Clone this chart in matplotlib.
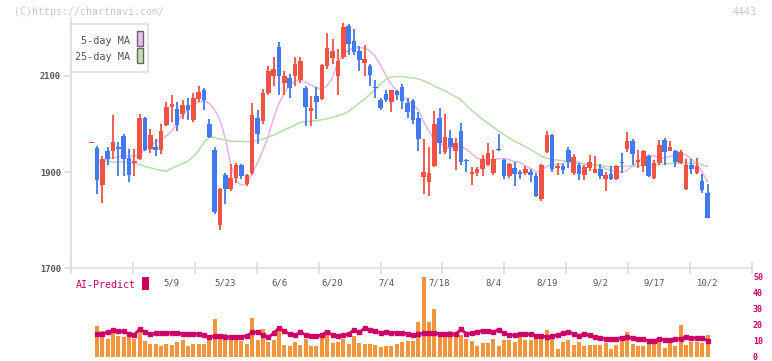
import numpy as np
import matplotlib
matplotlib.use('Agg')
import matplotlib.pyplot as plt
from matplotlib.patches import Rectangle

plt.rcParams['font.family'] = ['DejaVu Sans Mono']

date_labels = ['5/9', '5/23', '6/6', '6/20', '7/4', '7/18', '8/4', '8/19', '9/2', '9/17', '10/2']
price_ticks = [1700, 1900, 2100]

opens = [1960, 1950, 1874, 1943, 1943, 1951, 1975, 1930, 1920, 1928, 2013, 1948, 1953, 1946, 1999,
         2036, 2031, 2021, 2040, 2009, 2052, 2070, 2000, 1947, 1790, 1894, 1865, 1888, 1915, 1876,
         1898, 2013, 2007, 2065, 2100, 2160, 2085, 2095, 2100, 2091, 2075, 2028, 2059, 2052, 2120,
         2138, 2099, 2139, 2205, 2173, 2151, 2128, 2121, 2076, 2050, 2063, 2046, 2069, 2078, 2044,
         2049, 2012, 1889, 1880, 1912, 2013, 1942, 1971, 1943, 1985, 1925, 1897, 1898, 1906, 1915,
         1898, 1948, 1926, 1893, 1908, 1900, 1898, 1900, 1893, 1845, 1942, 1978, 1909, 1912, 1946,
         1898, 1915, 1894, 1909, 1898, 1907, 1885, 1896, 1885, 1920, 1948, 1964, 1922, 1912, 1933,
         1888, 1919, 1967, 1945, 1943, 1919, 1865, 1915, 1898, 1882, 1857]
highs = [1962, 1955, 1933, 1953, 2018, 1963, 1980, 1948, 1948, 2021, 2015, 1990, 1969, 2000, 2045,
         2060, 2045, 2050, 2055, 2065, 2080, 2075, 2011, 1952, 1868, 1898, 1916, 1919, 1917, 1896,
         2044, 2030, 2072, 2120, 2140, 2170, 2110, 2105, 2140, 2140, 2080, 2059, 2077, 2125, 2190,
         2177, 2156, 2210, 2208, 2198, 2163, 2165, 2125, 2092, 2055, 2071, 2071, 2071, 2084, 2055,
         2052, 2025, 1969, 1952, 2027, 2034, 2020, 1988, 1971, 2002, 1928, 1910, 1910, 1935, 1960,
         1946, 1980, 1928, 1920, 1921, 1905, 1912, 1907, 1898, 1916, 1986, 1980, 1918, 1917, 1952,
         1938, 1918, 1914, 1936, 1933, 1917, 1901, 1912, 1914, 1940, 1983, 1969, 1946, 1946, 1936,
         1926, 1967, 1971, 1964, 1946, 1946, 1928, 1928, 1930, 1896, 1876]
lows = [1960, 1855, 1836, 1914, 1928, 1891, 1891, 1880, 1891, 1925, 1944, 1940, 1933, 1938, 1996,
        2005, 1986, 2010, 2009, 2005, 2045, 2030, 1970, 1812, 1779, 1834, 1860, 1878, 1885, 1872,
        1895, 1959, 2000, 2060, 2080, 2060, 2060, 2055, 2080, 2085, 1997, 1997, 2011, 2050, 2115,
        2125, 2061, 2135, 2143, 2143, 2111, 2101, 2080, 2055, 2030, 2045, 2025, 2050, 2032, 2012,
        2000, 1945, 1855, 1851, 1910, 1938, 1938, 1928, 1905, 1915, 1900, 1873, 1893, 1893, 1912,
        1895, 1945, 1885, 1888, 1872, 1885, 1895, 1880, 1849, 1840, 1940, 1900, 1895, 1897, 1909,
        1895, 1884, 1884, 1902, 1898, 1886, 1860, 1884, 1883, 1898, 1942, 1914, 1908, 1901, 1889,
        1885, 1914, 1915, 1943, 1910, 1917, 1862, 1897, 1897, 1856, 1805]
closes = [1961, 1883, 1928, 1928, 1962, 1949, 1928, 1895, 1922, 2013, 1946, 1977, 1946, 1986, 2036,
          2042, 1998, 2040, 2030, 2055, 2067, 2050, 1974, 1818, 1865, 1865, 1888, 1915, 1893, 1894,
          2018, 1980, 2065, 2110, 2115, 2100, 2100, 2075, 2125, 2132, 2036, 2034, 2046, 2122, 2158,
          2152, 2132, 2201, 2166, 2150, 2134, 2136, 2103, 2074, 2034, 2050, 2070, 2061, 2049, 2025,
          2009, 1969, 1900, 1898, 2000, 1960, 1973, 1952, 1961, 1922, 1923, 1901, 1907, 1928, 1940,
          1928, 1946, 1893, 1917, 1897, 1897, 1907, 1894, 1851, 1915, 1978, 1907, 1912, 1905, 1922,
          1932, 1896, 1911, 1922, 1907, 1893, 1894, 1885, 1912, 1918, 1965, 1937, 1926, 1944, 1891,
          1919, 1957, 1942, 1953, 1921, 1941, 1914, 1906, 1912, 1863, 1805]

ma5 = [np.nan, 1922, 1923, 1928, 1930, 1932, 1935, 1934, 1933, 1936, 1950, 1958, 1963, 1968, 1976,
       1985, 2005, 2020, 2033, 2040, 2046, 2049, 2043, 2030, 2008, 1970, 1915, 1882, 1873, 1875,
       1898, 1920, 1945, 1975, 2013, 2043, 2065, 2082, 2090, 2091, 2087, 2081, 2076, 2072, 2080,
       2097, 2128, 2145, 2154, 2158, 2159, 2158, 2152, 2140, 2122, 2100, 2082, 2070, 2057, 2050,
       2041, 2030, 2005, 1985, 1968, 1960, 1953, 1949, 1953, 1952, 1948, 1938, 1929, 1926, 1924,
       1926, 1928, 1928, 1926, 1922, 1920, 1913, 1907, 1900, 1904, 1912, 1917, 1915, 1918, 1925,
       1924, 1920, 1917, 1916, 1915, 1912, 1907, 1903, 1900, 1900, 1904, 1912, 1923, 1931, 1935,
       1934, 1929, 1930, 1933, 1936, 1938, 1936, 1928, 1917, 1900, 1880]
ma25 = [np.nan, 1925, 1924, 1922, 1921, 1921, 1921, 1921, 1918, 1916, 1912, 1909, 1906, 1904, 1902,
        1908, 1913, 1918, 1923, 1932, 1945, 1962, 1973, 1972, 1969, 1967, 1964, 1964, 1964, 1963,
        1964, 1966, 1969, 1973, 1977, 1982, 1988, 1993, 1998, 2004, 2005, 2006, 2007, 2009, 2011,
        2014, 2017, 2021, 2026, 2035, 2044, 2052, 2062, 2072, 2084, 2093, 2098, 2099, 2099, 2097,
        2096, 2094, 2090, 2085, 2079, 2074, 2069, 2063, 2057, 2050, 2039, 2028, 2019, 2010, 2002,
        1994, 1985, 1978, 1971, 1964, 1959, 1953, 1947, 1940, 1933, 1929, 1926, 1925, 1924, 1922,
        1920, 1918, 1917, 1916, 1915, 1914, 1912, 1911, 1911, 1912, 1912, 1913, 1913, 1914, 1914,
        1915, 1916, 1917, 1918, 1919, 1919, 1919, 1919, 1918, 1915, 1912]

volume = [np.nan, 19.2, 15.8, 11.3, 15.8, 12.7, 12.1, 12.1, 10.8, 15.4, 9.6, 8.1, 8.1, 6.5, 8.1,
          7.1, 9.0, 10.2, 6.5, 8.1, 7.7, 8.1, 10.2, 23.3, 14.4, 14.4, 11.7, 10.8, 9.6, 8.1,
          24.4, 10.6, 17.5, 9.0, 10.2, 15.8, 7.5, 6.9, 9.4, 7.2, 10.8, 6.5, 6.5, 11.6, 14.3,
          8.4, 9.0, 10.9, 7.8, 12.8, 8.4, 7.8, 7.8, 7.2, 5.9, 6.6, 6.6, 7.8, 9.0, 9.7,
          9.7, 21.6, 49.7, 21.6, 29.7, 14.1, 12.8, 15.9, 13.4, 13.4, 10.9, 9.7, 6.6, 8.4, 8.4,
          10.9, 6.6, 10.3, 10.3, 9.0, 12.8, 10.3, 10.3, 12.8, 12.8, 16.6, 10.9, 4.7, 9.0, 10.3,
          7.2, 9.0, 6.6, 7.2, 7.2, 7.2, 8.4, 4.7, 7.2, 10.9, 15.3, 7.8, 6.6, 6.6, 9.0,
          10.9, 10.9, 5.3, 9.0, 6.6, 19.7, 7.2, 9.0, 9.0, 8.4, 13.4]
ai_predict = [np.nan, 14.0, 14.4, 15.3, 16.5, 15.8, 15.9, 13.9, 13.8, 17.2, 15.2, 14.1, 14.5, 14.7, 14.5,
              15.0, 14.7, 14.3, 14.4, 14.2, 14.0, 13.3, 12.1, 12.8, 12.7, 12.5, 12.0, 12.0, 12.0, 13.0,
              15.2, 15.2, 13.6, 12.0, 14.7, 18.0, 15.8, 14.2, 13.3, 15.2, 13.6, 12.6, 12.9, 13.5, 15.7,
              13.4, 13.1, 13.4, 14.0, 16.8, 15.2, 17.8, 16.8, 16.1, 14.9, 15.5, 14.9, 15.0, 14.7, 14.4,
              13.3, 14.0, 14.7, 14.7, 14.7, 14.3, 14.1, 13.9, 14.2, 17.0, 14.4, 14.5, 15.6, 16.2, 15.9,
              15.4, 16.8, 14.6, 13.5, 13.3, 14.1, 14.1, 13.9, 13.2, 12.8, 12.4, 12.8, 13.5, 14.6, 15.7,
              14.1, 13.2, 14.0, 13.3, 12.4, 11.9, 11.2, 11.1, 11.3, 11.8, 12.0, 11.6, 11.1, 10.7, 9.9,
              10.0, 10.9, 10.6, 10.5, 10.7, 11.3, 12.2, 11.7, 11.5, 11.5, 10.0]

RED = '#f25243'
BLUE = '#4279ee'
GRID = '#dddddd'
TXT = '#555555'
MAG = '#cc0066'

W, H = 772, 361
fig = plt.figure(figsize=(W / 100, H / 100), dpi=100)


def add_px_axes(left, top, right, bottom):
    return fig.add_axes([left / W, 1 - bottom / H, (right - left) / W, (bottom - top) / H])


# lower panel first so the price axes (and its date labels) sit on top
ax2 = add_px_axes(70.7, 277, 752.3, 356.5)
ax = add_px_axes(70.7, 18.3, 752.3, 268.3)
ax.patch.set_visible(False)
ax2.patch.set_visible(False)

x = np.arange(len(closes))
o = np.array(opens, dtype=float)
c = np.array(closes, dtype=float)
up = c >= o
cols = np.where(up, RED, BLUE)

# wicks then bodies
ax.vlines(x, lows, highs, colors=cols, linewidth=1.3, zorder=3)
body_lo = np.minimum(o, c)
body_h = np.maximum(np.abs(c - o), 2.5)
ax.bar(x, body_h, bottom=body_lo, width=0.86, color=cols, linewidth=0, zorder=4)

ax.plot(x, ma5, color='#e8b2ea', linewidth=1.1, zorder=2)
ax.plot(x, ma25, color='#b6dea8', linewidth=1.1, zorder=2)

xlim = (-3.88, 123.36)
ax.set_xlim(*xlim)
ax.set_ylim(1700, 2220)
for s in ['top', 'right']:
    ax.spines[s].set_visible(False)
for s in ['left', 'bottom']:
    ax.spines[s].set_color(GRID)
    ax.spines[s].set_linewidth(1.2)
ax.set_yticks(price_ticks)
ax.set_yticklabels([str(v) for v in price_ticks], fontsize=6.3, color=TXT, fontweight='bold')
ax.tick_params(axis='y', length=5, color=GRID, width=1.2, pad=2)

label_pos = list(range(15, len(closes), 10))
ax.set_xticks(label_pos)
ax.set_xticklabels(date_labels, fontsize=6.4, color=TXT)
ax.tick_params(axis='x', which='major', length=0, pad=7)
ax.set_xticks(np.linspace(xlim[0], xlim[1], 12), minor=True)
ax.tick_params(axis='x', which='minor', length=8, direction='inout', color=GRID, width=1.2)

# legend box
leg = Rectangle((70.7 / W, 1 - 71.7 / H), 77.6 / W, 47.7 / H, transform=fig.transFigure,
                facecolor='white', edgecolor=GRID, linewidth=1.2, zorder=10)
fig.patches.append(leg)
fig.text(130 / W, 1 - 41.5 / H, '5-day MA', ha='right', va='center', fontsize=7.3, color=TXT, zorder=11)
fig.text(130 / W, 1 - 57 / H, '25-day MA', ha='right', va='center', fontsize=7.3, color=TXT, zorder=11)
for top, fc in [(31, '#f0bcf0'), (48.3, '#bfe2b2')]:
    fig.patches.append(Rectangle((136.5 / W, 1 - (top + 15) / H), 6 / W, 15 / H, transform=fig.transFigure,
                                 facecolor=fc, edgecolor='#666666', linewidth=1.0, zorder=11))

fig.text(14 / W, 1 - 12 / H, '(C)https://chartnavi.com/', ha='left', va='center', fontsize=7.1, color='#c8c8c8')
fig.text(757 / W, 1 - 12 / H, '4443', ha='right', va='center', fontsize=7.1, color='#c8c8c8')

# lower panel
ax2.bar(x, volume, width=0.75, color='#f2963e', linewidth=0, zorder=2)
ax2.plot(x, ai_predict, color=MAG, linewidth=2.0, marker='s', markersize=2.2, zorder=3)
ax2.set_xlim(*xlim)
ax2.set_ylim(0, 50)
for s in ax2.spines.values():
    s.set_visible(False)
ax2.set_xticks([])
ax2.yaxis.tick_right()
ax2.set_yticks([0, 10, 20, 30, 40, 50])
ax2.set_yticklabels(['0', '10', '20', '30', '40', '50'], fontsize=6.0, color=MAG, fontweight='bold')
ax2.tick_params(axis='y', length=0, pad=0.5)

fig.text(76 / W, 1 - 285.5 / H, 'AI-Predict', ha='left', va='center', fontsize=7.2, color=MAG)
fig.patches.append(Rectangle((142.3 / W, 1 - 289.5 / H), 6.7 / W, 12.8 / H, transform=fig.transFigure,
                             facecolor=MAG, edgecolor='none'))

fig.savefig('out.png', dpi=100)
